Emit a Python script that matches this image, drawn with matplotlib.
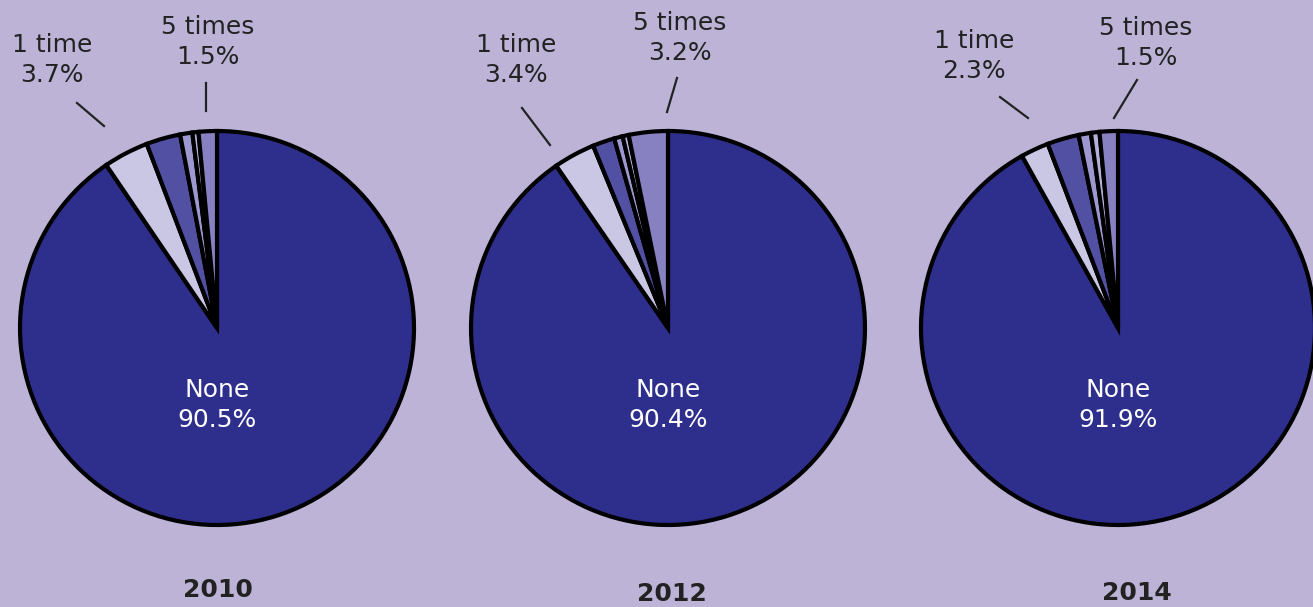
import matplotlib.pyplot as plt

# share of respondents by number of times, per survey year
years = ['2010', '2012', '2014']
categories = ['None', '1 time', '2 times', '3 times', '4 times', '5 times']
pct_2010 = [90.5, 3.7, 2.8, 1.0, 0.5, 1.5]
pct_2012 = [90.4, 3.4, 1.8, 0.7, 0.5, 3.2]
pct_2014 = [91.9, 2.3, 2.6, 1.0, 0.7, 1.5]
data = [pct_2010, pct_2012, pct_2014]

colors = ['#2e2f8d', '#c9c7e3', '#5250a2', '#9d98cf', '#b5b0da', '#8781c1']
bg = '#bcb3d6'

W, H = 1313, 607
fig = plt.figure(figsize=(W / 100, H / 100), dpi=100, facecolor=bg)
ax = fig.add_axes([0, 0, 1, 1])
ax.set_facecolor(bg)

# pixel layout for each pie: centre x, centre y (from top), year label pos,
# "1 time" label/leader, "5 times" label/leader
layout = [
    dict(cx=217, cy=328, year=(218, 590),
         l1=(52, 60), line1=((77, 103), (104, 126)),
         l5=(208, 42), line5=((206, 83), (206, 111))),
    dict(cx=668, cy=328, year=(672, 594),
         l1=(516, 60), line1=((522, 108), (550, 145)),
         l5=(680, 38), line5=((677, 78), (667, 112))),
    dict(cx=1118, cy=328, year=(1137, 593),
         l1=(974, 56), line1=((1000, 97), (1028, 118)),
         l5=(1146, 43), line5=((1137, 80), (1114, 118))),
]
R = 197
font = dict(family='DejaVu Sans', fontsize=18, linespacing=1.3)

for year, vals, lay in zip(years, data, layout):
    cx, cy = lay['cx'], H - lay['cy']
    ax.pie(vals, colors=colors, startangle=90, counterclock=False,
           center=(cx, cy), radius=R,
           wedgeprops=dict(edgecolor='black', linewidth=3.0, joinstyle='miter'))
    ax.text(cx, cy - 77, '%s\n%.1f%%' % (categories[0], vals[0]), color='white',
            ha='center', va='center', **font)

    x, y = lay['l1']
    ax.text(x, H - y, '%s\n%.1f%%' % (categories[1], vals[1]), color='#222222',
            ha='center', va='center', **font)
    (x0, y0), (x1, y1) = lay['line1']
    ax.plot([x0, x1], [H - y0, H - y1], color='#222222', lw=1.6)

    x, y = lay['l5']
    ax.text(x, H - y, '%s\n%.1f%%' % (categories[5], vals[5]), color='#222222',
            ha='center', va='center', **font)
    (x0, y0), (x1, y1) = lay['line5']
    ax.plot([x0, x1], [H - y0, H - y1], color='#222222', lw=1.6)

    x, y = lay['year']
    ax.text(x, H - y, year, color='#222222', ha='center', va='center',
            fontsize=18, fontweight='heavy', family='DejaVu Sans')

ax.set_xlim(0, W)
ax.set_ylim(0, H)
ax.set_aspect('auto')
ax.axis('off')

fig.savefig('out.png', dpi=100, facecolor=bg)
